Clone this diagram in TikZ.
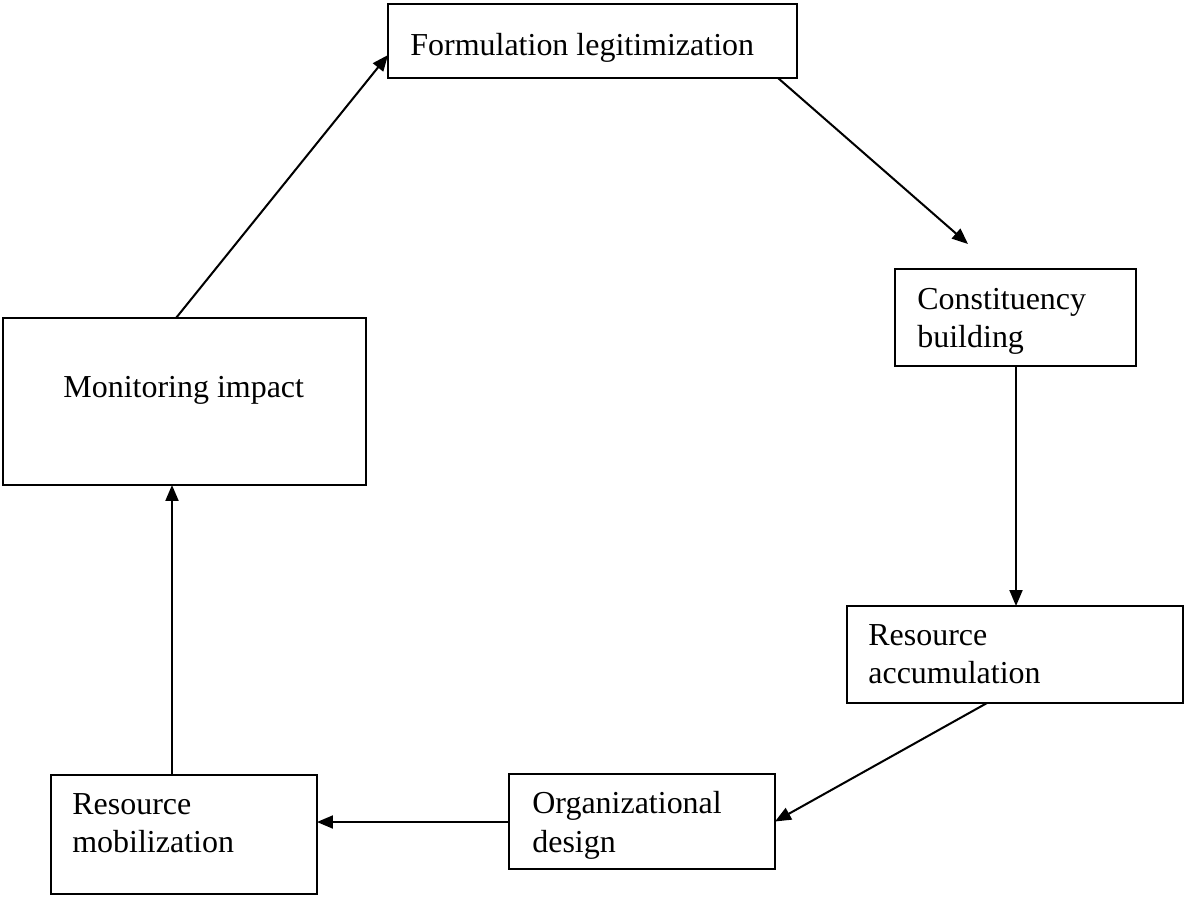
\documentclass[tikz,border=0pt]{standalone}
\usepackage{fontspec}
\setmainfont{Liberation Serif}
\usetikzlibrary{arrows.meta}
\begin{document}
\begin{tikzpicture}[x=0.02cm,y=-0.02cm,
  box/.style={draw=black,line width=1.3pt,inner sep=0pt,outer sep=0pt,fill=white},
  lbl/.style={anchor=base west,inner sep=0pt,font=\fontsize{18.2}{21.5}\selectfont},
  conn/.style={line width=1.15pt,-{Triangle[length=0.32cm,width=0.26cm]}}]
\useasboundingbox (0,0) rectangle (1185,896);
\fill[white] (0,0) rectangle (1185,896);
% boxes
\node[box,minimum width=8.18cm,minimum height=1.48cm] (form) at (592.5,41) {};
\node[box,minimum width=4.82cm,minimum height=1.94cm] (cons) at (1015.5,317.5) {};
\node[box,minimum width=7.26cm,minimum height=3.34cm] (mon) at (184.5,401.5) {};
\node[box,minimum width=6.72cm,minimum height=1.94cm] (acc) at (1015,654.5) {};
\node[box,minimum width=5.32cm,minimum height=1.90cm] (org) at (642,821.5) {};
\node[box,minimum width=5.32cm,minimum height=2.38cm] (mob) at (184,834.5) {};
% texts
\node[lbl] (formT) at (410,55) {Formulation legitimization};
\node[lbl] (monT) at (63,397) {Monitoring impact};
\node[lbl] (consT1) at (917,309) {Constituency};
\node[lbl] (consT2) at (917,347) {building};
\node[lbl] (accT1) at (868,645) {Resource};
\node[lbl] (accT2) at (868,683) {accumulation};
\node[lbl] (orgT1) at (532,813) {Organizational};
\node[lbl] (orgT2) at (532,852) {design};
\node[lbl] (mobT1) at (72,814) {Resource};
\node[lbl] (mobT2) at (72,852) {mobilization};
% connectors
\coordinate (consIn) at ([xshift=-0.95cm,yshift=0.5cm]cons.north);
\coordinate (consOut) at ([xshift=0.01cm]cons.south);
\coordinate (orgOut) at ([yshift=-0.01cm]org.west);
\draw[conn] ([xshift=-0.17cm]mon.north) -- ([yshift=-0.28cm]form.west);
\draw[conn] ([xshift=-0.38cm]form.south east) -- (consIn);
\draw[conn] (consOut) -- (consOut |- acc.north);
\draw[conn] ([xshift=-0.56cm]acc.south) -- (org.east);
\draw[conn] (orgOut) -- (mob.east |- orgOut);
\draw[conn] ([xshift=-0.24cm]mob.north) -- ([xshift=-0.24cm]mob.north |- mon.south);
\end{tikzpicture}
\end{document}
